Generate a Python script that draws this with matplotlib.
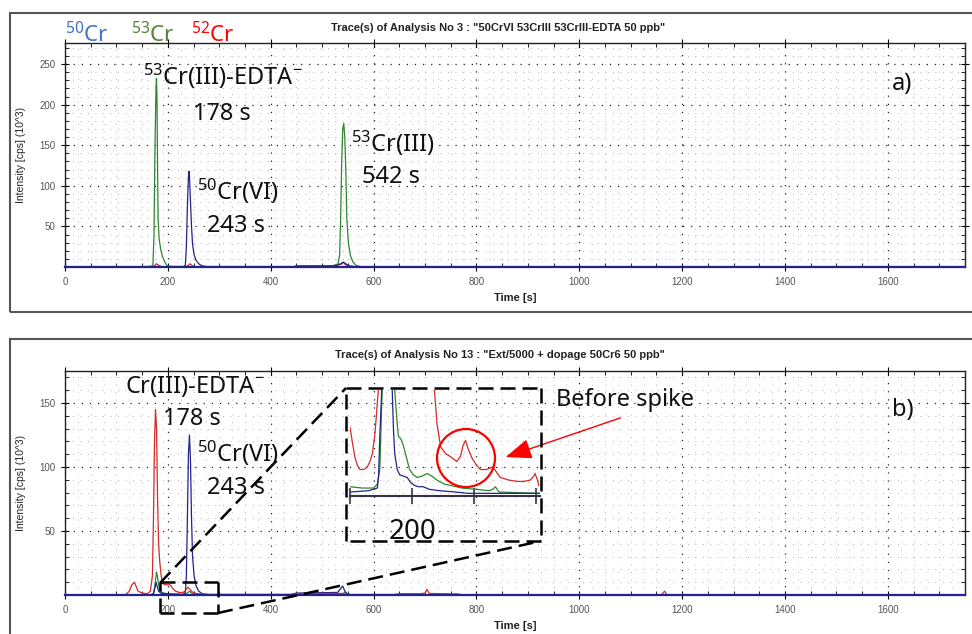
import numpy as np
import matplotlib.pyplot as plt
from matplotlib.patches import Rectangle, Circle, FancyArrowPatch
from matplotlib.lines import Line2D
from matplotlib.ticker import MultipleLocator

plt.rcParams['mathtext.fontset'] = 'custom'
plt.rcParams['mathtext.rm'] = 'Noto Sans'
plt.rcParams['mathtext.default'] = 'regular'

# ---- data (time [s], intensity [10^3 cps]) ----
# a) standard 50 ppb
a_green_t = [0, 150, 168, 171, 173, 175, 177, 178, 179, 180, 181, 183, 186, 189, 192, 195, 198, 205, 230,
             445, 450, 520, 526, 531, 534, 536, 538, 540, 542, 544, 546, 548, 551, 555, 560, 566, 575, 1750]
a_green_v = [0.5, 0.5, 0.8, 3, 40, 150, 222, 232, 200, 120, 60, 35, 22, 14, 9, 5, 2, 0.8, 0.5,
             0.5, 1.5, 1.5, 2.5, 4, 15, 60, 130, 170, 177, 160, 120, 60, 30, 14, 6, 2, 0.5, 0.5]
a_blue_t = [0, 230, 234, 236, 238, 240, 241, 242, 244, 246, 248, 251, 255, 260, 266, 275,
            445, 450, 520, 530, 536, 541, 546, 552, 565, 1750]
a_blue_v = [0.5, 0.5, 2, 25, 75, 112, 118, 112, 80, 50, 28, 15, 8, 4, 1.5, 0.5,
            0.5, 1, 1.2, 2, 4, 6, 4, 1.5, 0.5, 0.5]
a_red_t = [0, 170, 175, 178, 182, 188, 235, 240, 243, 247, 252, 500, 520, 530, 538, 541, 545, 552, 560, 1750]
a_red_v = [0.3, 0.3, 2, 4, 2, 0.5, 0.5, 2, 4, 2, 0.5, 0.5, 1.5, 3, 3.5, 6, 3, 1, 0.3, 0.3]

# b) extract + spike
b_red_t = [0, 118, 125, 130, 135, 138, 142, 150, 160, 166, 170, 172, 174, 176, 178, 180, 182, 184, 187, 190,
           195, 200, 204, 210, 215, 222, 230, 235, 239, 243, 247, 255, 270, 440, 445, 540, 545,
           640, 650, 690, 700, 704, 708, 740, 765, 770, 1160, 1166, 1170, 1750]
b_red_v = [0.3, 0.3, 3, 8, 10, 7, 3, 1.5, 1, 3, 15, 60, 120, 145, 130, 75, 40, 27, 15, 9,
           8, 8, 8, 5, 3, 2, 2, 4, 6, 4.5, 2.5, 1.2, 0.5, 0.5, 1.2, 1.2, 0.4,
           0.4, 1.0, 1.0, 1.5, 4.4, 1.2, 1.0, 0.8, 0.3, 0.3, 3, 0.3, 0.3]
b_green_t = [0, 165, 172, 175, 178, 180, 182, 184, 187, 192, 200, 230, 238, 242, 246, 255,
             440, 445, 540, 544, 548, 1750]
b_green_v = [0.3, 0.3, 1, 8, 18, 14, 8, 4, 2.5, 1.5, 1, 0.5, 1.5, 3, 1.5, 0.3,
             0.3, 1, 1, 2, 0.3, 0.3]
b_blue_t = [0, 168, 172, 175, 177, 179, 182, 186, 195, 210, 230, 234, 236, 238, 240, 242, 244, 246, 248,
            251, 255, 260, 267, 280, 440, 450, 530, 536, 540, 544, 550, 560, 1750]
b_blue_v = [0.2, 0.2, 1, 6, 10, 7, 3, 1.5, 1, 0.6, 0.4, 2, 15, 60, 110, 125, 105, 60, 30,
            15, 7, 3, 1, 0.3, 0.3, 1.5, 2, 5, 7, 3, 0.5, 0.2, 0.2]

# zoomed view shown in the inset of b)
ins_red_t = [150, 152, 154, 156, 158, 161, 164, 166, 168, 170, 172, 174, 180, 195, 210, 216, 218, 220, 223,
             227, 232, 236, 239, 241, 243, 245, 248, 252, 255, 260, 265, 268, 271, 278, 285, 290, 295, 298,
             299, 301, 302]
ins_red_v = [5.2, 4.0, 2.9, 2.3, 2.0, 2.0, 2.2, 2.6, 3.2, 4.6, 7.0, 9.5, 40, 25, 12, 9.5, 8.0, 5.5, 3.7,
             3.2, 2.9, 2.6, 3.0, 3.8, 4.2, 3.6, 2.9, 2.3, 2.0, 2.0, 2.2, 1.8, 1.4, 1.2, 1.1, 1.1, 1.2, 1.5,
             1.7, 1.2, 0.8]
ins_green_t = [150, 160, 169, 172, 174, 176, 178, 182, 186, 188, 189, 191, 193, 196, 198, 201, 204, 208,
               212, 216, 220, 226, 231, 240, 252, 262, 265, 267, 270, 303]
ins_green_v = [0.7, 0.6, 0.6, 0.9, 2.0, 8.5, 20, 20, 8.0, 5.5, 4.5, 4.3, 3.8, 2.7, 2.0, 1.6, 1.4, 1.5,
               1.7, 1.5, 1.2, 0.9, 0.8, 0.6, 0.5, 0.4, 0.5, 0.7, 0.3, 0.2]
ins_blue_t = [150, 165, 172, 173, 174, 176, 180, 184, 185, 186, 188, 190, 193, 196, 199, 202, 205, 209, 214,
              222, 235, 245, 303]
ins_blue_v = [0.3, 0.4, 0.6, 1.5, 4.5, 9, 25, 8.0, 5.0, 3.2, 2.0, 1.6, 1.5, 1.4, 1.0, 0.8, 0.7, 0.7, 0.5,
              0.4, 0.3, 0.2, 0.2]

C_BLUE, C_GREEN, C_RED = '#23238f', '#2f862f', '#d42a2a'

W, H = 972, 634
fig = plt.figure(figsize=(W / 100, H / 100), dpi=100)
fig.patch.set_facecolor('white')


def inch(x, y):
    # reference pixel -> inches from lower left
    return x / 100, (H - y) / 100


def fig_text(x, y, s, **kw):
    fig.text(x / W, 1 - y / H, s, **kw)


def setup(ax, ymax, yticks):
    ax.set_xlim(0, 1750)
    ax.set_ylim(0, ymax)
    ax.set_xticks(range(0, 1601, 200))
    ax.xaxis.set_minor_locator(MultipleLocator(50))
    ax.set_yticks(yticks)
    ax.yaxis.set_minor_locator(MultipleLocator(10))
    ax.grid(which='major', color='#222222', ls=(0, (1, 5.5)), lw=0.9)
    ax.grid(which='minor', color='#9a9a9a', ls=(0, (1, 8)), lw=0.6)
    for x in np.arange(25, 1750, 50):
        ax.axvline(x, color='#b0b0b0', ls=(0, (1, 8)), lw=0.6, zorder=0)
    ax.tick_params(which='both', top=True, right=True)
    ax.tick_params(which='major', direction='inout', length=6, width=0.8, labelsize=7,
                   labelcolor='#555555', pad=4)
    ax.tick_params(which='minor', direction='in', length=3, width=0.6)
    for lbl in ax.get_xticklabels() + ax.get_yticklabels():
        lbl.set_family('Liberation Sans')
    for s in ax.spines.values():
        s.set_color('#222222')
        s.set_linewidth(1.0)
    ax.spines['bottom'].set_color(C_BLUE)
    ax.spines['bottom'].set_linewidth(1.6)
    ax.set_xlabel('Time [s]', fontsize=8, fontweight='bold', family='Liberation Sans', color='#222222')
    ax.xaxis.set_label_coords(0.5, -0.115)
    ax.set_ylabel('Intensity [cps] (10^3)', fontsize=7.5, family='Liberation Sans', color='#222222')
    ax.yaxis.set_label_coords(-0.043, 0.5)


ax_a = fig.add_axes([65 / W, 1 - 267 / H, 900 / W, 224 / H])
ax_b = fig.add_axes([65 / W, 1 - 595 / H, 900 / W, 224 / H])
setup(ax_a, 276, [50, 100, 150, 200, 250])
setup(ax_b, 175, [50, 100, 150])

ax_a.plot(a_red_t, a_red_v, color=C_RED, lw=0.9)
ax_a.plot(a_green_t, a_green_v, color=C_GREEN, lw=0.9)
ax_a.plot(a_blue_t, a_blue_v, color=C_BLUE, lw=0.9)

ax_b.plot(b_green_t, b_green_v, color=C_GREEN, lw=0.9)
ax_b.plot(b_blue_t, b_blue_v, color=C_BLUE, lw=0.9)
ax_b.plot(b_red_t, b_red_v, color=C_RED, lw=0.9)

# panel frames
fig.add_artist(Rectangle(inch(10, 312), 9.9, 2.99, transform=fig.dpi_scale_trans,
                         fill=False, ec='#555555', lw=1.5))
fig.add_artist(Rectangle(inch(10, 650), 9.9, 3.11, transform=fig.dpi_scale_trans,
                         fill=False, ec='#555555', lw=1.5))

# titles
title_kw = dict(fontsize=8, fontweight='bold', family='Liberation Sans', color='#222222', ha='center', va='center')
fig_text(498, 28, 'Trace(s) of Analysis No 3 : "50CrVI 53CrIII 53CrIII-EDTA 50 ppb"', **title_kw)
fig_text(500, 355, 'Trace(s) of Analysis No 13 : "Ext/5000 + dopage 50Cr6 50 ppb"', **title_kw)

# isotope labels
iso_kw = dict(fontsize=16, family='Noto Sans', va='baseline')
fig_text(65, 42, '$^{50}$Cr', color='#4472c4', **iso_kw)
fig_text(131, 42, '$^{53}$Cr', color='#548235', **iso_kw)
fig_text(191, 42, '$^{52}$Cr', color='#ff0000', **iso_kw)

# peak annotations
ann_kw = dict(fontsize=17, family='Noto Sans', va='baseline', color='#111111')
fig_text(143, 85, '$^{53}$Cr(III)-EDTA$^{-}$', **ann_kw)
fig_text(193, 120, '178 s', **ann_kw)
fig_text(197, 200, '$^{50}$Cr(VI)', **ann_kw)
fig_text(207, 232, '243 s', **ann_kw)
fig_text(351, 152, '$^{53}$Cr(III)', **ann_kw)
fig_text(362, 183, '542 s', **ann_kw)
fig_text(892, 90, 'a)', **ann_kw)

fig_text(125, 393, 'Cr(III)-EDTA$^{-}$', **ann_kw)
fig_text(163, 425, '178 s', **ann_kw)
fig_text(197, 462, '$^{50}$Cr(VI)', **ann_kw)
fig_text(207, 494, '243 s', **ann_kw)
fig_text(892, 416, 'b)', **ann_kw)
fig_text(556, 406, 'Before spike', **ann_kw)

# inset with zoomed traces
axi = fig.add_axes([350 / W, 1 - 496 / H, 190 / W, 106 / H])
axi.patch.set_alpha(0)
axi.plot(ins_red_t, ins_red_v, color=C_RED, lw=0.9)
axi.plot(ins_green_t, ins_green_v, color=C_GREEN, lw=0.9)
axi.plot(ins_blue_t, ins_blue_v, color=C_BLUE, lw=0.9)
axi.set_xlim(150, 303)
axi.set_ylim(0, 8)
for s in ['top', 'right', 'left']:
    axi.spines[s].set_visible(False)
axi.spines['bottom'].set_color('#333344')
axi.spines['bottom'].set_linewidth(1.5)
axi.set_xticks([150, 200, 250, 300])
axi.set_xticklabels(['', '200', '', ''], family='Noto Sans')
axi.set_yticks([])
axi.tick_params(axis='x', direction='inout', length=12, width=1.2, color='#333344',
                labelsize=20, labelcolor='#111111', pad=10)

# dashed zoom frame and connectors
dash_kw = dict(color='black', lw=1.8, ls=(0, (6, 2.8)), transform=fig.dpi_scale_trans)


def dline(p, q):
    a, b = inch(*p), inch(*q)
    fig.add_artist(Line2D([a[0], b[0]], [a[1], b[1]], **dash_kw))


for (x0, y0, x1, y1) in [(346, 388, 541, 541), (160, 582, 218, 613)]:
    dline((x0, y0), (x1, y0))
    dline((x1, y0), (x1, y1))
    dline((x1, y1), (x0, y1))
    dline((x0, y1), (x0, y0))
dline((160, 583), (346, 388))
dline((218, 613), (541, 541))

# highlight of the spike
fig.add_artist(Circle(inch(466, 458), 0.29, transform=fig.dpi_scale_trans,
                      fill=False, ec='#ff0000', lw=1.6))
fig.add_artist(FancyArrowPatch(inch(623, 417), inch(503, 458), transform=fig.dpi_scale_trans,
                               arrowstyle='-|>,head_length=0.9,head_width=0.35', mutation_scale=18,
                               color='#ff0000', lw=1.0))

fig.savefig('out.png', dpi=100)
